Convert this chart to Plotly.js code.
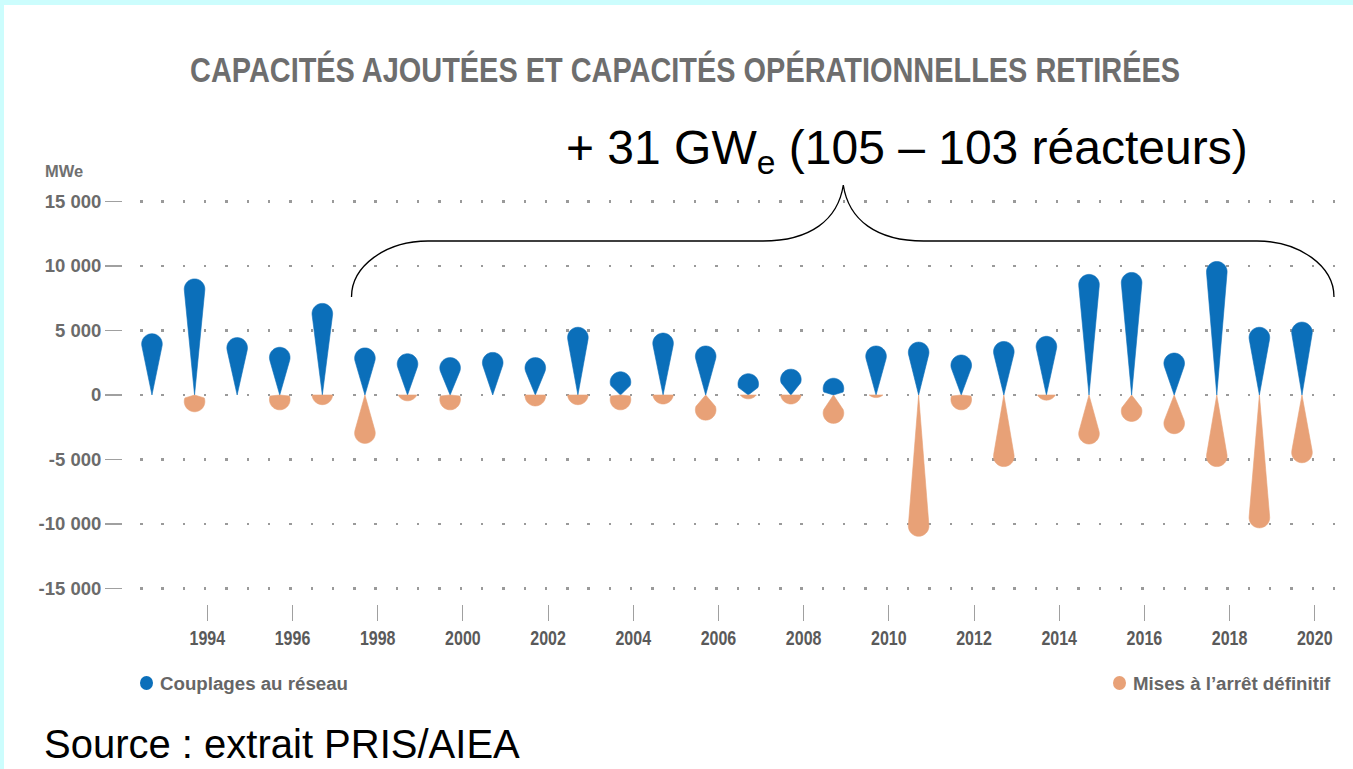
<!DOCTYPE html>
<html>
<head>
<meta charset="utf-8">
<script src="https://cdn.plot.ly/plotly-3.0.1.min.js"></script>
<style>
html,body{margin:0;padding:0;background:#ffffff;}
#chart{width:1353px;height:769px;}
</style>
</head>
<body>
<div id="chart"></div>
<script>
// ---------- DATA (MWe) ----------
const years = [1993,1994,1995,1996,1997,1998,1999,2000,2001,2002,2003,2004,2005,2006,
               2007,2008,2009,2010,2011,2012,2013,2014,2015,2016,2017,2018,2019,2020];
const couplages = [4750,9000,4450,3700,7100,3650,3200,2900,3300,2900,5250,1800,4800,3800,
                   1650,2000,1300,3800,4100,3100,4150,4550,9350,9500,3250,10350,5250,5650];
const arrets = [0,-1300,0,-1150,-750,-3750,-450,-1150,0,-850,-750,-1150,-700,-1950,
                -300,-700,-2200,-200,-10950,-1150,-5550,-400,-3800,-2050,-3000,-5550,-10300,-5250];
const xTickYears = [1994,1996,1998,2000,2002,2004,2006,2008,2010,2012,2014,2016,2018,2020];
const xTickText = ['1994','1996','1998','2000','2002','2004','2006','2008','2010','2012','2014','2016','2018','2020'];
const yTickVals = [15000,10000,5000,0,-5000,-10000,-15000];
const yTickText = ['15 000','10 000','5 000','0','-5 000','-10 000','-15 000'];
const seriesNames = ['Couplages au réseau','Mises à l\u2019arrêt définitif'];
const titleText = 'CAPACITÉS AJOUTÉES ET CAPACITÉS OPÉRATIONNELLES RETIRÉES';
const noteText = '+ 31 GW<sub>e</sub> (105 – 103 réacteurs)';
const sourceText = 'Source : extrait PRIS/AIEA';

// ---------- LAYOUT GEOMETRY ----------
const FW = 1353, FH = 769;
const L = 123, R = 1345, T = 190, B = 604;
const xRange = [1992.32, 2021.01];
const yRange = [-16200, 15890];
const pxPerX = (R - L) / (xRange[1] - xRange[0]);
const pxPerY = (B - T) / (yRange[1] - yRange[0]);
const BLUE = '#0b6fba', ORANGE = '#e8a177';
const FONT = '"Liberation Sans", Arial, sans-serif';

function px2x(px){ return (px - L) / (R - L); }
function px2y(py){ return (B - py) / (B - T); }

// teardrop outline built from a value, in data units
function dropOutline(x0, v){
  const xs = [], ys = [];
  const h = Math.abs(v) * pxPerY;
  if (h <= 0) return {xs, ys};
  const s = Math.sign(v);
  const r = 10.3;
  const c = h - r;
  const aMin = 70 * Math.PI / 180;
  const pt = (dx, along) => { xs.push(x0 + dx / pxPerX); ys.push(s * along / pxPerY); };
  const arc = (a0, a1, n) => {
    for (let i = 0; i <= n; i++){
      const th = a0 + (a1 - a0) * i / n;
      pt(r * Math.sin(th), c - r * Math.cos(th));
    }
  };
  let alpha = c > 0 ? Math.acos(Math.min(1, r / c)) : 0;
  alpha = Math.max(alpha, aMin);
  if (c > 0 && c - r * Math.cos(alpha) > 0){
    pt(0, 0);
    arc(alpha, 2 * Math.PI - alpha, 40);
    pt(0, 0);
  } else {
    const t0 = Math.acos(Math.max(-1, Math.min(1, c / r)));
    arc(t0, 2 * Math.PI - t0, 40);
    pt(r * Math.sin(t0), 0);
  }
  return {xs, ys};
}

function seriesTrace(vals, color, name){
  let X = [], Y = [];
  years.forEach((yr, i) => {
    const o = dropOutline(yr, vals[i]);
    if (o.xs.length){
      X = X.concat(o.xs, [null]);
      Y = Y.concat(o.ys, [null]);
    }
  });
  return {
    type: 'scatter', mode: 'lines', x: X, y: Y, name: name,
    fill: 'toself', fillcolor: color,
    line: {width: 0.6, color: color, simplify: false},
    hoverinfo: 'skip', showlegend: false
  };
}

const traces = [
  seriesTrace(couplages, BLUE, seriesNames[0]),
  seriesTrace(arrets, ORANGE, seriesNames[1])
];

// dotted grid pattern aligned on half-year positions
const period = pxPerX / 2;
const dotW = 2.4;
const firstDot = (L + (years[0] - 0.25 - xRange[0]) * pxPerX) - dotW / 2 - L;
const gridDash = '0px,' + firstDot.toFixed(2) + 'px,' + dotW + 'px,' + (period - firstDot - dotW).toFixed(2) + 'px';

// brace path (pixel geometry converted to paper)
function P(px, py){ return px2x(px).toFixed(5) + ',' + px2y(py).toFixed(5); }
const bracePath = 'M' + P(351.5, 297) +
  ' C' + P(351.5, 266) + ' ' + P(385.7, 241) + ' ' + P(428, 241) +
  ' L' + P(763, 241) +
  ' C' + P(810, 241) + ' ' + P(838, 220) + ' ' + P(843.3, 185) +
  ' C' + P(848.6, 220) + ' ' + P(876.6, 241) + ' ' + P(923.6, 241) +
  ' L' + P(1257, 241) +
  ' C' + P(1299.5, 241) + ' ' + P(1334, 266) + ' ' + P(1334, 297);

const layout = {
  width: FW, height: FH,
  margin: {l: L, r: FW - R, t: T, b: FH - B, pad: 0},
  paper_bgcolor: '#ffffff', plot_bgcolor: '#ffffff',
  showlegend: false,
  title: {
    text: titleText,
    font: {family: FONT, size: 34.5, color: '#6e6e6e', weight: 'bold'},
    xref: 'container', yref: 'container', x: 685 / FW, xanchor: 'center', y: 1 - 70 / FH, yanchor: 'middle'
  },
  xaxis: {
    range: xRange, showgrid: false, zeroline: false, showline: false,
    tickmode: 'array', tickvals: xTickYears.map(y => y + 0.3), ticktext: xTickText,
    ticks: 'outside', ticklen: 16, tickwidth: 1, tickcolor: '#a0a0a0',
    tickfont: {family: FONT, size: 20, color: '#5a5a5a', weight: 'bold'},
    fixedrange: true
  },
  yaxis: {
    range: yRange, showgrid: true, gridcolor: '#9a9a9a', gridwidth: dotW, griddash: gridDash,
    zeroline: false, showline: false,
    tickmode: 'array', tickvals: yTickVals, ticktext: yTickText,
    ticks: 'outside', ticklen: 17, tickwidth: 1.5, tickcolor: '#a0a0a0',
    tickfont: {family: FONT, size: 18.5, color: '#6b6b6b', weight: 'bold'},
    fixedrange: true
  },
  shapes: [
    {type: 'rect', xref: 'paper', yref: 'paper', x0: px2x(0), x1: px2x(FW), y0: px2y(5), y1: px2y(0), fillcolor: '#ccfdfd', line: {width: 0}, layer: 'below'},
    {type: 'rect', xref: 'paper', yref: 'paper', x0: px2x(0), x1: px2x(4), y0: px2y(FH), y1: px2y(0), fillcolor: '#ccfdfd', line: {width: 0}, layer: 'below'},
    {type: 'path', xref: 'paper', yref: 'paper', path: bracePath, line: {color: '#000000', width: 1.3}},
    {type: 'circle', xref: 'paper', yref: 'paper', x0: px2x(140), x1: px2x(153), y0: px2y(690), y1: px2y(676), fillcolor: BLUE, line: {width: 0}},
    {type: 'circle', xref: 'paper', yref: 'paper', x0: px2x(1113), x1: px2x(1126), y0: px2y(690), y1: px2y(676), fillcolor: ORANGE, line: {width: 0}}
  ],
  annotations: [
    {xref: 'paper', yref: 'paper', x: px2x(43), y: px2y(171), xanchor: 'left', yanchor: 'middle', showarrow: false,
     text: 'MWe', font: {family: FONT, size: 16.5, color: '#707070', weight: 'bold'}},
    {xref: 'paper', yref: 'paper', x: px2x(564), y: px2y(151), xanchor: 'left', yanchor: 'middle', showarrow: false,
     text: noteText, font: {family: FONT, size: 48, color: '#000000'}},
    {xref: 'paper', yref: 'paper', x: px2x(42), y: px2y(744), xanchor: 'left', yanchor: 'middle', showarrow: false,
     text: sourceText, font: {family: FONT, size: 40, color: '#000000'}},
    {xref: 'paper', yref: 'paper', x: px2x(158), y: px2y(683), xanchor: 'left', yanchor: 'middle', showarrow: false,
     text: seriesNames[0], font: {family: FONT, size: 18.7, color: '#666666', weight: 'bold'}},
    {xref: 'paper', yref: 'paper', x: px2x(1131), y: px2y(683), xanchor: 'left', yanchor: 'middle', showarrow: false,
     text: seriesNames[1], font: {family: FONT, size: 18.7, color: '#666666', weight: 'bold'}}
  ]
};

function condense(el, factor){
  const w = el.getComputedTextLength();
  if (w > 0){
    el.setAttribute('textLength', (w * factor).toFixed(1));
    el.setAttribute('lengthAdjust', 'spacingAndGlyphs');
  }
}

Plotly.newPlot('chart', traces, layout, {displayModeBar: false, staticPlot: true}).then(gd => {
  const t = gd.querySelector('.gtitle');
  if (t){
    const w = t.getComputedTextLength();
    if (w > 0){
      t.setAttribute('textLength', '990');
      t.setAttribute('lengthAdjust', 'spacingAndGlyphs');
    }
  }
  gd.querySelectorAll('.xtick text').forEach(el => condense(el, 0.8));
});
</script>
</body>
</html>
